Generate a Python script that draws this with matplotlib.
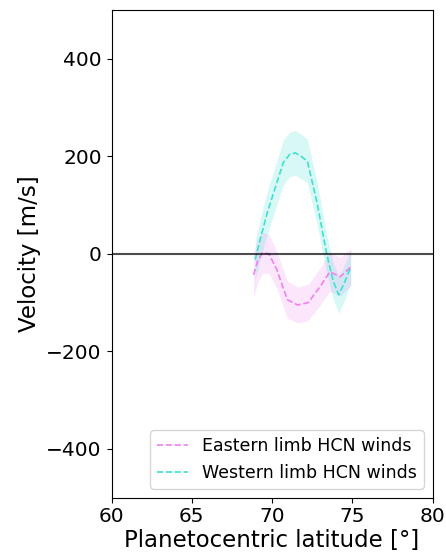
import numpy as np
import matplotlib.pyplot as plt

# latitude grid (deg) and winds (m/s)
lat_east = [68.85, 69.1, 69.4, 69.8, 70.3, 70.95, 71.6, 72.25, 73.0, 73.6, 74.25, 74.9]
vel_east = [-43, -15, 2, 0, -33, -94, -105, -100, -67, -37, -47, -27]
err_east = [45, 45, 42, 40, 38, 38, 37, 37, 38, 40, 40, 38]

lat_west = [68.95, 69.3, 69.7, 70.3, 70.7, 71.1, 71.45, 71.8, 72.2, 72.8, 73.4, 73.8, 74.15, 74.5, 74.9]
vel_west = [-12, 35, 84, 146, 187, 204, 207, 200, 190, 105, 0, -55, -84, -60, -27]
err_west = [40, 42, 44, 45, 46, 46, 46, 46, 45, 44, 40, 38, 38, 37, 35]


def main():
    fig, ax = plt.subplots(figsize=(4.46, 5.56), dpi=100)

    le, ve, ee = np.array(lat_east), np.array(vel_east), np.array(err_east)
    lw, vw, ew = np.array(lat_west), np.array(vel_west), np.array(err_west)

    ax.plot(le, ve, linestyle="--", color="violet", linewidth=1.2,
            label="Eastern limb HCN winds")
    ax.fill_between(le, ve - ee, ve + ee, color="violet", alpha=0.2, linewidth=0)
    ax.plot(lw, vw, linestyle="--", color="turquoise", linewidth=1.2,
            label="Western limb HCN winds")
    ax.fill_between(lw, vw - ew, vw + ew, color="turquoise", alpha=0.2, linewidth=0)

    ax.axhline(0, color="black", alpha=0.7, linewidth=1.5)

    ax.set_xlim(60, 80)
    ax.set_ylim(-500, 500)
    ax.set_xticks([60, 65, 70, 75, 80])
    ax.set_yticks([-400, -200, 0, 200, 400])
    ax.tick_params(labelsize=14.5)
    ax.set_xlabel("Planetocentric latitude [°]", fontsize=16.5, labelpad=2)
    ax.set_ylabel("Velocity [m/s]", fontsize=16.5, labelpad=4)
    ax.legend(loc="lower right", fontsize=12.5, handlelength=1.8)

    fig.subplots_adjust(left=0.25, right=0.97, bottom=0.105, top=0.982)
    fig.savefig("out.png", dpi=100)
    plt.close(fig)


if __name__ == "__main__":
    main()
